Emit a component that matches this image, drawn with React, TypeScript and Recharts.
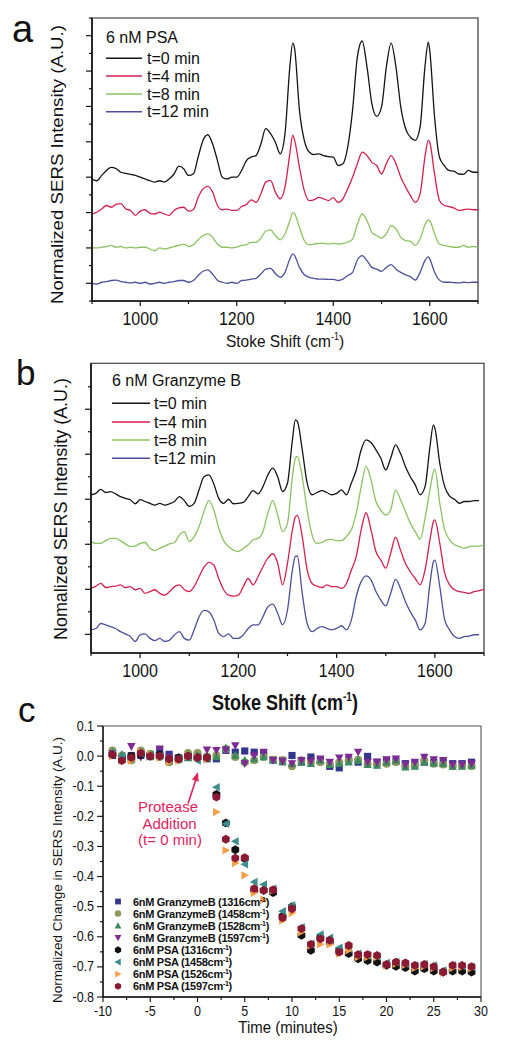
import { LineChart, Line, XAxis, YAxis, ReferenceArea, ScatterChart, Scatter, ReferenceLine, ReferenceDot } from "recharts";

const FONT = '"Liberation Sans", Arial, Helvetica, sans-serif';
const INK = "#111";

// Raman shift grid (cm-1), shared by panels a and b
const WAVENUMBER = [
  900, 910, 920, 930, 940, 950, 960, 970, 980, 990,
  1000, 1010, 1020, 1030, 1040, 1050, 1060, 1070, 1080, 1090,
  1100, 1110, 1120, 1130, 1140, 1150, 1160, 1170, 1180, 1190,
  1200, 1210, 1220, 1230, 1240, 1250, 1260, 1270, 1280, 1290,
  1300, 1310, 1316, 1320, 1330, 1340, 1350, 1360, 1370, 1380, 1390,
  1400, 1410, 1420, 1430, 1440, 1450, 1460, 1470, 1480, 1490,
  1500, 1510, 1520, 1530, 1540, 1550, 1560, 1570, 1580, 1590, 1597,
  1600, 1610, 1620, 1630, 1640, 1650, 1660, 1670, 1680, 1690,
  1700,
];

// panel a: 6 nM PSA (offset spectra, arbitrary units)
const PSA_T0 = [
  3.45, 3.4, 3.55, 3.69, 3.78, 3.74, 3.64, 3.61, 3.58, 3.55,
  3.5, 3.45, 3.4, 3.36, 3.4, 3.36, 3.45, 3.59, 3.81, 3.74,
  3.55, 3.59, 4.07, 4.54, 4.7, 4.44, 3.97, 3.5, 3.45, 3.5,
  3.5, 3.69, 3.97, 4.07, 4.11, 4.44, 4.87, 4.73, 4.49, 4.16,
  4.73, 6.61, 7.29, 7.13, 5.39, 4.54, 4.21, 4.14, 4.16, 4.11, 4.08,
  4.07, 3.83, 3.88, 4.35, 5.39, 6.9, 7.35, 6.61, 5.58, 5.22,
  5.48, 6.61, 7.29, 6.61, 5.48, 4.87, 4.63, 4.54, 4.92, 6.61, 7.32,
  7.08, 5.2, 4.07, 3.83, 3.69, 3.67, 3.59, 3.58, 3.69, 3.64,
  3.64,
];
const PSA_T4 = [
  2.46, 2.51, 2.6, 2.7, 2.65, 2.73, 2.75, 2.6, 2.56, 2.42,
  2.54, 2.58, 2.48, 2.46, 2.51, 2.46, 2.42, 2.56, 2.63, 2.65,
  2.54, 2.58, 2.93, 3.17, 3.24, 3.08, 2.7, 2.58, 2.6, 2.56,
  2.56, 2.67, 2.73, 2.86, 2.79, 3.03, 3.36, 3.41, 3.08, 2.89,
  3.22, 4.16, 4.68, 4.54, 3.78, 3.12, 2.84, 2.86, 2.93, 2.89, 2.84,
  2.92, 2.79, 2.89, 3.17, 3.5, 3.88, 4.21, 4.11, 3.92, 3.83,
  3.59, 3.88, 4.11, 3.88, 3.5, 3.22, 2.98, 2.79, 3.03, 4.07, 4.54,
  4.49, 3.59, 2.84, 2.7, 2.67, 2.63, 2.56, 2.58, 2.6, 2.58,
  2.58,
];
const PSA_T8 = [
  1.5, 1.5, 1.52, 1.54, 1.57, 1.52, 1.54, 1.5, 1.52, 1.5,
  1.52, 1.52, 1.47, 1.42, 1.5, 1.47, 1.5, 1.54, 1.57, 1.61,
  1.54, 1.59, 1.73, 1.85, 1.9, 1.8, 1.61, 1.52, 1.52, 1.5,
  1.52, 1.57, 1.59, 1.66, 1.66, 1.78, 1.97, 2.01, 1.85, 1.73,
  1.9, 2.27, 2.5, 2.46, 2.08, 1.71, 1.59, 1.61, 1.63, 1.63, 1.61,
  1.63, 1.61, 1.63, 1.66, 1.75, 2.17, 2.46, 2.27, 1.94, 1.85,
  1.78, 1.9, 2.13, 2.04, 1.8, 1.71, 1.69, 1.57, 1.75, 2.15, 2.29,
  2.27, 1.9, 1.61, 1.57, 1.54, 1.52, 1.52, 1.57, 1.52, 1.54,
  1.52,
];
const PSA_T12 = [
  0.5, 0.48, 0.53, 0.55, 0.58, 0.59, 0.55, 0.53, 0.51, 0.53,
  0.5, 0.53, 0.48, 0.5, 0.53, 0.5, 0.53, 0.55, 0.58, 0.58,
  0.53, 0.58, 0.72, 0.84, 0.88, 0.76, 0.59, 0.53, 0.5, 0.53,
  0.5, 0.58, 0.59, 0.62, 0.64, 0.76, 0.9, 0.92, 0.78, 0.67,
  0.81, 1.19, 1.33, 1.28, 0.95, 0.74, 0.67, 0.64, 0.62, 0.62, 0.61,
  0.61, 0.58, 0.62, 0.72, 0.81, 1.16, 1.28, 1.14, 0.95, 0.9,
  0.84, 0.95, 1.03, 0.9, 0.81, 0.74, 0.69, 0.59, 0.81, 1.14, 1.25,
  1.19, 0.81, 0.59, 0.53, 0.53, 0.52, 0.51, 0.53, 0.52, 0.53,
  0.53,
];

// panel b: 6 nM Granzyme B
const GRB_T0 = [
  4.1, 4.13, 4.22, 4.15, 4.17, 4.12, 4.06, 4.02, 3.99, 3.9,
  3.99, 3.95, 3.91, 3.87, 3.91, 3.87, 3.9, 3.95, 4.06, 3.97,
  3.84, 3.91, 4.21, 4.5, 4.54, 4.34, 4.02, 3.91, 4.0, 3.9,
  3.91, 3.93, 4.06, 4.19, 4.12, 4.28, 4.54, 4.69, 4.5, 4.17,
  4.36, 5.32, 5.76, 5.73, 5.1, 4.36, 4.1, 4.15, 4.19, 4.15, 4.1,
  4.13, 4.21, 4.1, 4.36, 4.65, 5.1, 5.32, 5.26, 5.1, 4.91,
  4.65, 4.91, 5.21, 5.02, 4.73, 4.5, 4.32, 4.1, 4.28, 5.17, 5.65,
  5.58, 4.8, 4.28, 4.07, 4.0, 3.91, 3.95, 3.95, 3.97, 3.97,
  null,
];
const GRB_T4 = [
  2.02, 2.07, 2.13, 2.04, 2.06, 2.07, 2.1, 2.04, 2.06, 1.99,
  2.02, 1.91, 1.95, 1.99, 1.91, 1.87, 1.95, 2.06, 2.1, 1.99,
  1.95, 2.06, 2.28, 2.49, 2.6, 2.54, 2.24, 1.99, 1.87, 1.85,
  1.87, 2.06, 2.24, 2.1, 2.28, 2.5, 2.69, 2.79, 2.58, 2.1,
  2.58, 3.32, 3.61, 3.64, 3.17, 2.43, 2.13, 2.07, 2.04, 2.1, 2.06,
  2.06, 2.02, 2.13, 2.43, 2.73, 3.32, 3.7, 3.32, 2.84, 2.65,
  2.47, 2.8, 3.16, 2.87, 2.58, 2.39, 2.24, 2.1, 2.43, 3.1, 3.5,
  3.54, 3.02, 2.36, 2.1, 1.99, 1.95, 1.93, 1.91, 1.95, 1.97,
  2.0,
];
const GRB_T8 = [
  3.06, 3.02, 3.02, 3.08, 3.13, 3.13, 3.08, 3.01, 2.95, 2.96,
  3.02, 3.04, 2.91, 2.86, 2.91, 2.96, 3.01, 3.04, 3.21, 3.28,
  3.06, 3.17, 3.39, 3.73, 3.97, 3.76, 3.36, 3.08, 2.95, 2.87,
  2.84, 2.91, 2.99, 3.1, 3.13, 3.28, 3.69, 3.97, 3.65, 3.28,
  3.47, 4.5, 4.91, 4.95, 4.5, 3.76, 3.21, 3.02, 3.04, 3.1, 3.11,
  3.08, 3.08, 3.17, 3.32, 3.69, 4.28, 4.73, 4.43, 3.95, 3.76,
  3.65, 3.76, 4.21, 3.99, 3.73, 3.47, 3.28, 3.11, 3.58, 4.21, 4.61,
  4.67, 3.91, 3.32, 3.1, 2.99, 2.95, 2.91, 2.95, 2.96, 2.96,
  2.99,
];
const GRB_T12 = [
  1.1, 1.13, 1.24, 1.21, 1.17, 1.13, 1.06, 1.01, 0.95, 0.84,
  0.99, 1.01, 0.91, 0.86, 0.91, 0.84, 0.87, 0.99, 1.06, 0.91,
  0.87, 1.1, 1.39, 1.53, 1.5, 1.32, 1.02, 0.95, 1.01, 0.91,
  0.91, 0.99, 1.13, 1.21, 1.21, 1.39, 1.61, 1.67, 1.47, 1.21,
  1.54, 2.43, 2.73, 2.74, 1.91, 1.24, 1.06, 1.13, 1.17, 1.13, 1.1,
  1.13, 1.19, 1.1, 1.32, 1.84, 2.17, 2.3, 2.21, 1.95, 1.76,
  1.63, 1.91, 2.22, 2.02, 1.73, 1.5, 1.32, 1.1, 1.24, 2.13, 2.61,
  2.65, 2.06, 1.32, 1.1, 0.95, 0.91, 0.95, 0.96, 0.99, 0.99,
  null,
];

const SPEC_KEYS = ["t0", "t4", "t8", "t12"];
const SPEC_LABELS = ["t=0 min", "t=4 min", "t=8 min", "t=12 min"];
const SPEC_COLORS = ["#151515", "#d4204f", "#8cc262", "#4e4f9c"];

const SPEC_X_TICKS = [900, 1000, 1100, 1200, 1300, 1400, 1500, 1600, 1700];
const PSA_Y_TICKS = [0, 0.5, 1, 1.5, 2, 2.5, 3, 3.5, 4, 4.5, 5, 5.5, 6, 6.5, 7, 7.5, 8];
const GRB_Y_TICKS = [1, 1.5, 2, 2.5, 3, 3.5, 4, 4.5, 5, 5.5, 6, 6.5];

// panel c: normalized change vs time (minutes)
const TIME = [
  -9, -8, -7, -6, -5, -4, -3, -2, -1, 0, 1, 2, 3, 4, 5, 6, 7, 8, 9, 10,
  11, 12, 13, 14, 15, 16, 17, 18, 19, 20, 21, 22, 23, 24, 25, 26, 27, 28, 29,
];
const GZ_1316 = [0.002, -0.003, 0.002, 0.002, 0.002, 0.019, 0.006, -0.006, -0.003, -0.001, -0.009, -0.009, 0.019, 0.013, 0.017, 0.013, 0.008, -0.012, -0.014, 0.002, -0.02, -0.003, -0.014, -0.034, -0.039, -0.012, -0.02, -0.001, -0.02, -0.014, -0.017, -0.025, -0.025, -0.02, -0.02, -0.02, -0.025, -0.025, -0.02];
const GZ_1458 = [0.019, 0.002, -0.014, 0.019, 0.008, -0.003, -0.02, -0.012, 0.01, 0.01, -0.001, 0.002, 0.024, -0.003, -0.02, -0.014, -0.003, -0.012, -0.014, -0.034, -0.014, -0.02, -0.02, -0.025, -0.02, -0.014, -0.012, -0.025, -0.028, -0.025, -0.02, -0.034, -0.031, -0.014, -0.025, -0.028, -0.034, -0.031, -0.034];
const GZ_1528 = [0.013, 0.006, -0.009, 0.008, -0.003, 0.002, -0.014, -0.01, -0.006, 0.002, -0.006, -0.003, 0.027, 0.002, -0.014, -0.009, -0.003, -0.014, -0.02, -0.025, -0.02, -0.025, -0.014, -0.028, -0.025, -0.02, -0.014, -0.028, -0.031, -0.02, -0.014, -0.037, -0.034, -0.02, -0.023, -0.025, -0.034, -0.034, -0.031];
const GZ_1597 = [0.008, -0.009, 0.032, -0.003, 0.002, 0.024, -0.003, -0.009, -0.001, -0.003, 0.021, 0.019, 0.021, 0.035, -0.025, 0.002, 0.013, -0.014, -0.017, -0.025, -0.014, -0.017, -0.009, -0.02, -0.006, -0.003, 0.013, -0.02, -0.02, -0.012, -0.009, -0.028, -0.02, -0.003, -0.012, -0.014, -0.028, -0.028, -0.025];
const PS_1316 = [0.005, -0.01, 0.0, 0.005, 0.0, 0.005, -0.01, -0.005, 0.0, -0.005, -0.005, -0.127, -0.222, -0.311, -0.34, -0.446, -0.446, -0.453, -0.532, -0.5, -0.595, -0.645, -0.603, -0.618, -0.645, -0.656, -0.673, -0.679, -0.684, -0.695, -0.698, -0.702, -0.714, -0.706, -0.714, -0.717, -0.714, -0.714, -0.717];
const PS_1458 = [0.01, 0.0, -0.01, 0.01, 0.005, 0.0, -0.015, -0.01, -0.005, -0.015, -0.005, -0.103, -0.225, -0.283, -0.359, -0.418, -0.426, -0.44, -0.515, -0.496, -0.568, -0.623, -0.592, -0.603, -0.636, -0.64, -0.656, -0.662, -0.666, -0.687, -0.684, -0.69, -0.695, -0.69, -0.695, -0.712, -0.695, -0.698, -0.7];
const PS_1526 = [0.0, -0.015, -0.015, 0.015, 0.005, -0.005, -0.02, -0.015, 0.0, -0.005, -0.01, -0.186, -0.313, -0.355, -0.396, -0.454, -0.477, -0.446, -0.546, -0.521, -0.584, -0.629, -0.625, -0.625, -0.656, -0.645, -0.667, -0.667, -0.667, -0.695, -0.69, -0.693, -0.704, -0.698, -0.704, -0.72, -0.704, -0.7, -0.704];
const PS_1597 = [0.005, -0.015, -0.005, 0.01, 0.0, 0.0, -0.01, -0.01, 0.0, -0.005, -0.005, -0.136, -0.276, -0.339, -0.337, -0.44, -0.446, -0.444, -0.537, -0.507, -0.573, -0.625, -0.607, -0.612, -0.651, -0.629, -0.659, -0.659, -0.662, -0.692, -0.684, -0.687, -0.695, -0.692, -0.699, -0.717, -0.695, -0.695, -0.699];

const KIN_X_TICKS = [-10, -7.5, -5, -2.5, 0, 2.5, 5, 7.5, 10, 12.5, 15, 17.5, 20, 22.5, 25, 27.5, 30];
const KIN_Y_TICKS = [-0.8, -0.75, -0.7, -0.65, -0.6, -0.55, -0.5, -0.45, -0.4, -0.35, -0.3, -0.25, -0.2, -0.15, -0.1, -0.05, 0, 0.05, 0.1];

const KIN_SERIES = [
  { protease: "GranzymeB", band: "1316", values: GZ_1316, shape: "square", color: "#33368a" },
  { protease: "GranzymeB", band: "1458", values: GZ_1458, shape: "circle", color: "#8d9a5c" },
  { protease: "GranzymeB", band: "1528", values: GZ_1528, shape: "up", color: "#3d8a5e" },
  { protease: "GranzymeB", band: "1597", values: GZ_1597, shape: "down", color: "#7d2a93" },
  { protease: "PSA", band: "1316", values: PS_1316, shape: "hex", color: "#111111" },
  { protease: "PSA", band: "1458", values: PS_1458, shape: "left", color: "#3c8d8e" },
  { protease: "PSA", band: "1526", values: PS_1526, shape: "right", color: "#f6a04c" },
  { protease: "PSA", band: "1597", values: PS_1597, shape: "hex", color: "#8a1a33" },
];

const psaRows = WAVENUMBER.map((w, i) => ({ w, t0: PSA_T0[i], t4: PSA_T4[i], t8: PSA_T8[i], t12: PSA_T12[i] }));
const grbRows = WAVENUMBER.map((w, i) => ({ w, t0: GRB_T0[i], t4: GRB_T4[i], t8: GRB_T8[i], t12: GRB_T12[i] }));

const marker = (kind: string, color: string, cx: number, cy: number, r = 4.2) => {
  const pts = (list: number[][]) => list.map(([dx, dy]) => `${cx + dx * r},${cy + dy * r}`).join(" ");
  switch (kind) {
    case "square":
      return <rect x={cx - r * 0.85} y={cy - r * 0.85} width={r * 1.7} height={r * 1.7} fill={color} />;
    case "circle":
      return <circle cx={cx} cy={cy} r={r * 0.95} fill={color} />;
    case "up":
      return <polygon points={pts([[0, -1.05], [1, 0.8], [-1, 0.8]])} fill={color} />;
    case "down":
      return <polygon points={pts([[0, 1.05], [1, -0.8], [-1, -0.8]])} fill={color} />;
    case "left":
      return <polygon points={pts([[-1.05, 0], [0.8, -1], [0.8, 1]])} fill={color} />;
    case "right":
      return <polygon points={pts([[1.05, 0], [-0.8, -1], [-0.8, 1]])} fill={color} />;
    default:
      return <polygon points={pts([[0, -1.05], [0.92, -0.52], [0.92, 0.52], [0, 1.05], [-0.92, 0.52], [-0.92, -0.52]])} fill={color} />;
  }
};

// ticks: tickSize=0 & tickMargin=0, so x/y arrive on the axis line itself
const SpecXTick = (props: any) => {
  const { x, y, payload } = props;
  const v = payload.value;
  const labeled = v % 200 === 0;
  return (
    <g>
      <line x1={x} x2={x} y1={y} y2={y + (labeled ? 5 : 3)} stroke={INK} strokeWidth={1.2} />
      {labeled && (
        <text transform={`translate(${x},${y + 24}) scale(1,1.12)`} textAnchor="middle" fontSize={16} fill={INK}>
          {v}
        </text>
      )}
    </g>
  );
};

const specYTick = (isMajor: (v: number) => boolean) => (props: any) => {
  const { x, y, payload } = props;
  const len = isMajor(payload.value) ? 6 : 3;
  return <line x1={x - len} x2={x} y1={y} y2={y} stroke={INK} strokeWidth={1.2} />;
};

const KinXTick = (props: any) => {
  const { x, y, payload } = props;
  const v = payload.value;
  const labeled = v % 5 === 0;
  return (
    <g>
      <line x1={x} x2={x} y1={y} y2={y + (labeled ? 5 : 3)} stroke={INK} strokeWidth={1.1} />
      {labeled && (
        <text transform={`translate(${x},${y + 18.5}) scale(1,1.1)`} textAnchor="middle" fontSize={12.5} fill={INK}>
          {v}
        </text>
      )}
    </g>
  );
};

const KinYTick = (props: any) => {
  const { x, y, payload } = props;
  const v = payload.value;
  const labeled = Math.round(v * 20) % 2 === 0;
  return (
    <g>
      <line x1={x - (labeled ? 6 : 3)} x2={x} y1={y} y2={y} stroke={INK} strokeWidth={1.1} />
      {labeled && (
        <text transform={`translate(${x - 9},${y + 4.5}) scale(1,1.1)`} textAnchor="end" fontSize={12.5} fill={INK}>
          {v.toFixed(1)}
        </text>
      )}
    </g>
  );
};

const CmUnit = ({ sup = 9, rise = 6 }: { sup?: number; rise?: number }) => (
  <>
    <tspan dy={-rise} fontSize={sup}>-1</tspan>
    <tspan dy={rise}>)</tspan>
  </>
);

const SpectraPanel = ({ rows, order, domain, ticks, isMajor, top, height, marginTop, yWidth, right, xHeight }: any) => (
  <div style={{ position: "absolute", left: 0, top }}>
    <LineChart width={506} height={height} data={rows} margin={{ top: marginTop, right, bottom: 0, left: 0 }}>
      <XAxis dataKey="w" type="number" domain={[900, 1700]} ticks={SPEC_X_TICKS} interval={0} height={xHeight}
        tickSize={0} tickMargin={0} tickLine={false} tick={SpecXTick} axisLine={{ stroke: INK, strokeWidth: 1.6 }} />
      <YAxis type="number" domain={domain} ticks={ticks} interval={0} width={yWidth} tickSize={0} tickMargin={0}
        tickLine={false} tick={specYTick(isMajor)} axisLine={{ stroke: INK, strokeWidth: 1.6 }} />
      <ReferenceArea x1={900} x2={1700} y1={domain[0]} y2={domain[1]} fill="none" stroke="#222" strokeWidth={1.1} />
      {order.map((i: number) => (
        <Line key={SPEC_KEYS[i]} dataKey={SPEC_KEYS[i]} type="monotone" stroke={SPEC_COLORS[i]} strokeWidth={1.3}
          dot={false} isAnimationActive={false} />
      ))}
    </LineChart>
  </div>
);

const SpecLegend = ({ title, x, titleY, rowsY, lineEnd, textX }: any) => (
  <g>
    <text x={x} y={titleY} fontSize={16} fill={INK}>{title}</text>
    {SPEC_LABELS.map((lab, i) => (
      <g key={lab}>
        <line x1={x} x2={lineEnd} y1={rowsY[i]} y2={rowsY[i]} stroke={SPEC_COLORS[i]} strokeWidth={1.6} />
        <text x={textX} y={rowsY[i] + 5.5} fontSize={16} fill={INK}>{lab}</text>
      </g>
    ))}
  </g>
);

export default function App() {
  return (
    <div style={{ position: "absolute", left: 0, top: 0, width: 506, height: 1050, background: "#fff", fontFamily: FONT, overflow: "hidden" }}>
      <SpectraPanel rows={psaRows} order={[0, 1, 2, 3]} domain={[0, 8]} ticks={PSA_Y_TICKS}
        isMajor={(v: number) => Math.round(v * 2) % 2 === 1}
        top={0} height={340} marginTop={18} yWidth={92} right={28} xHeight={39} />
      <SpectraPanel rows={grbRows} order={[0, 2, 1, 3]} domain={[0.585, 7.02]} ticks={GRB_Y_TICKS}
        isMajor={(v: number) => Number.isInteger(v)}
        top={340} height={340} marginTop={23.3} yWidth={91} right={22} xHeight={27} />

      <div style={{ position: "absolute", left: 0, top: 690 }}>
        <ScatterChart width={506} height={340} margin={{ top: 36, right: 25, bottom: 0, left: 0 }}>
          <XAxis dataKey="t" type="number" domain={[-10, 30]} ticks={KIN_X_TICKS} interval={0} height={33}
            tickSize={0} tickMargin={0} tickLine={false} tick={KinXTick} axisLine={{ stroke: INK, strokeWidth: 1.4 }} />
          <YAxis dataKey="v" type="number" domain={[-0.8, 0.1]} ticks={KIN_Y_TICKS} interval={0} width={103}
            tickSize={0} tickMargin={0} tickLine={false} tick={KinYTick} axisLine={{ stroke: INK, strokeWidth: 1.4 }} />
          <ReferenceArea x1={-10} x2={30} y1={-0.8} y2={0.1} fill="none" stroke="#555" strokeWidth={1.1} />
          {KIN_SERIES.map((s) => (
            <Scatter key={s.protease + s.band} data={TIME.map((t, i) => ({ t, v: s.values[i] }))}
              isAnimationActive={false} shape={(p: any) => marker(s.shape, s.color, p.cx, p.cy)} />
          ))}
          <ReferenceLine segment={[{ x: -1.0, y: -0.157 }, { x: 0.0, y: -0.062 }]} stroke="#e0245e" strokeWidth={1.6} />
          <ReferenceDot x={0.06} y={-0.053} r={0} shape={(p: any) => (
            <polygon transform={`translate(${p.cx},${p.cy}) rotate(18)`} points="0,0 -3.5,9 3.5,9" fill="#e0245e" />
          )} />
        </ScatterChart>
      </div>

      <svg width={506} height={1050} style={{ position: "absolute", left: 0, top: 0, pointerEvents: "none" }}
        fontFamily={FONT}>
        {/* panel letters */}
        <text x={12} y={42} fontSize={38} fill={INK}>a</text>
        <text x={16} y={385} fontSize={35} fill={INK}>b</text>
        <text x={18} y={722} fontSize={35} fill={INK}>c</text>

        {/* panel a */}
        <SpecLegend title="6 nM PSA" x={106} titleY={42.5} rowsY={[58.3, 76, 94, 111.7]} lineEnd={142} textX={147} />
        <text transform="translate(63,164.5) rotate(-90)" textAnchor="middle" fontSize={17} fill={INK}
          textLength={279} lengthAdjust="spacingAndGlyphs">Normalized SERS Intensity (A.U.)</text>
        <text transform="translate(285,346.5) scale(1,1.12)" textAnchor="middle" fontSize={15.5} fill={INK}>
          Stoke Shift (cm<CmUnit sup={9} rise={6} />
        </text>

        {/* panel b */}
        <SpecLegend title="6 nM Granzyme B" x={112} titleY={386} rowsY={[403.3, 422, 440, 458.3]} lineEnd={150} textX={154} />
        <text transform="translate(67,509) rotate(-90)" textAnchor="middle" fontSize={17.5} fill={INK}
          textLength={262} lengthAdjust="spacingAndGlyphs">Nomalized SERS Intensity (A.U.)</text>
        <text transform="translate(285,709.5) scale(1,1.2)" textAnchor="middle" fontSize={18} fontWeight="bold" fill={INK}>
          Stoke Shift (cm<CmUnit sup={10} rise={7} />
        </text>

        {/* panel c */}
        <text transform="translate(62,870) rotate(-90)" textAnchor="middle" fontSize={13.5} fill={INK}
          textLength={266} lengthAdjust="spacingAndGlyphs">Normalized Change in SERS Intensity (A.U.)</text>
        <text transform="translate(288,1033) scale(1,1.1)" textAnchor="middle" fontSize={15} fill={INK}>Time (minutes)</text>
        <g fill="#e0245e" fontSize={15} textAnchor="middle">
          <text x={168} y={812}>Protease</text>
          <text x={169.5} y={828.5}>Addition</text>
          <text x={170} y={845}>(t= 0 min)</text>
        </g>
        {KIN_SERIES.map((s, i) => {
          const y = 901.5 + i * 12.1;
          return (
            <g key={s.protease + s.band}>
              {marker(s.shape, s.color, 118, y, 3.4)}
              <text x={133} y={y + 4} fontSize={11} fontWeight="bold" letterSpacing={-0.3} fill={INK}>
                6nM {s.protease} ({s.band}cm<CmUnit sup={7} rise={4} />
              </text>
            </g>
          );
        })}
      </svg>
    </div>
  );
}
